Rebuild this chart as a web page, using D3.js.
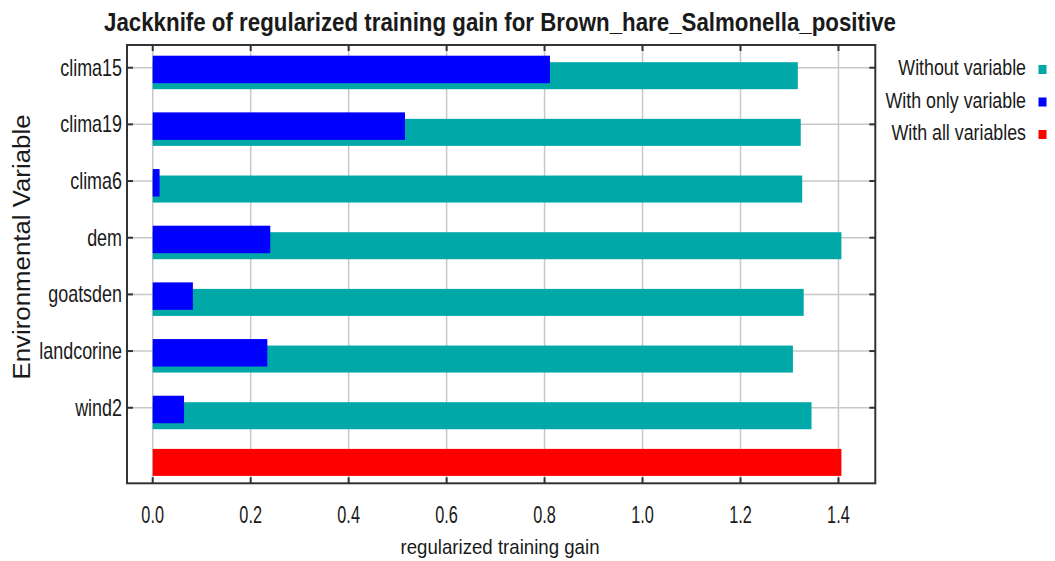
<!DOCTYPE html>
<html>
<head>
<meta charset="utf-8">
<script src="https://cdn.jsdelivr.net/npm/d3@7"></script>
<style>
  body { margin: 0; background: #fff; }
  text { font-family: "Liberation Sans", Arial, sans-serif; fill: #1a1a1a; }
</style>
</head>
<body>
<div id="chart"></div>
<script>
// data
const variables = ['clima15', 'clima19', 'clima6', 'dem', 'goatsden', 'landcorine', 'wind2'];
const withoutVariable = [1.317, 1.323, 1.326, 1.406, 1.329, 1.307, 1.345];
const withOnlyVariable = [0.811, 0.515, 0.014, 0.240, 0.082, 0.234, 0.064];
const withAllVariables = 1.406;
const xTicks = [0.0, 0.2, 0.4, 0.6, 0.8, 1.0, 1.2, 1.4];
const legendLabels = ['Without variable', 'With only variable', 'With all variables'];

const teal = '#00a8a8', blue = '#0000ff', red = '#ff0000';
const legendColors = [teal, blue, red];

const width = 1055, height = 561;
const box = { left: 127, right: 875.3, top: 45, bottom: 483.3 };

const svg = d3.select('#chart').append('svg')
  .attr('width', width)
  .attr('height', height);

const x = d3.scaleLinear()
  .domain([-0.0525, 1.4752])
  .range([box.left, box.right]);

// one row per variable plus the "all variables" row at the bottom
const rows = variables.concat(['__all']);
const y = d3.scalePoint()
  .domain(rows)
  .range([67.7, 464.4]);

// the reference font is narrow: texts are squeezed horizontally with scale()

// grid lines
svg.append('g').selectAll('line')
  .data(xTicks)
  .enter().append('line')
    .attr('x1', d => x(d)).attr('x2', d => x(d))
    .attr('y1', box.top).attr('y2', box.bottom)
    .attr('stroke', '#c8c8c8')
    .attr('stroke-width', 1.5);

svg.append('g').selectAll('line')
  .data(variables)
  .enter().append('line')
    .attr('x1', box.left).attr('x2', box.right)
    .attr('y1', d => y(d)).attr('y2', d => y(d))
    .attr('stroke', '#c8c8c8')
    .attr('stroke-width', 1.5);

// bars: without variable (teal) under with only variable (blue)
const barG = svg.append('g');
barG.selectAll('.without')
  .data(variables)
  .enter().append('rect')
    .attr('class', 'without')
    .attr('x', x(0))
    .attr('y', d => y(d) - 5.5)
    .attr('width', (d, i) => x(withoutVariable[i]) - x(0))
    .attr('height', 27)
    .attr('fill', teal);

barG.selectAll('.withonly')
  .data(variables)
  .enter().append('rect')
    .attr('class', 'withonly')
    .attr('x', x(0))
    .attr('y', d => y(d) - 12)
    .attr('width', (d, i) => x(withOnlyVariable[i]) - x(0))
    .attr('height', 27.5)
    .attr('fill', blue);

barG.append('rect')
  .attr('x', x(0))
  .attr('y', y('__all') - 15.5)
  .attr('width', x(withAllVariables) - x(0))
  .attr('height', 27)
  .attr('fill', red);

// plot frame
svg.append('rect')
  .attr('x', box.left).attr('y', box.top)
  .attr('width', box.right - box.left)
  .attr('height', box.bottom - box.top)
  .attr('fill', 'none')
  .attr('stroke', '#333')
  .attr('stroke-width', 2);

// inward ticks on all four sides
const tickLen = 6;
const tickG = svg.append('g').attr('stroke', '#333').attr('stroke-width', 2);
xTicks.forEach(d => {
  tickG.append('line').attr('x1', x(d)).attr('x2', x(d)).attr('y1', box.bottom).attr('y2', box.bottom - tickLen);
  tickG.append('line').attr('x1', x(d)).attr('x2', x(d)).attr('y1', box.top).attr('y2', box.top + tickLen);
});
variables.forEach(d => {
  tickG.append('line').attr('x1', box.left).attr('x2', box.left + tickLen).attr('y1', y(d)).attr('y2', y(d));
  tickG.append('line').attr('x1', box.right).attr('x2', box.right - tickLen).attr('y1', y(d)).attr('y2', y(d));
});

// x tick labels
svg.append('g').selectAll('text')
  .data(xTicks)
  .enter().append('text')
    .attr('transform', d => `translate(${x(d)},523) scale(0.68,1)`)
    .attr('text-anchor', 'middle')
    .attr('font-size', 24)
    .text(d => d3.format('.1f')(d));

// y tick labels
svg.append('g').selectAll('text')
  .data(variables)
  .enter().append('text')
    .attr('transform', d => `translate(122,${y(d)}) scale(0.78,1)`)
    .attr('dy', '0.35em')
    .attr('text-anchor', 'end')
    .attr('font-size', 23)
    .text(d => d);

// title
svg.append('text')
  .attr('x', 500)
  .attr('y', 31)
  .attr('text-anchor', 'middle')
  .attr('font-size', 26)
  .attr('font-weight', 'bold')
  .attr('textLength', 792)
  .attr('lengthAdjust', 'spacingAndGlyphs')
  .text('Jackknife of regularized training gain for Brown_hare_Salmonella_positive');

// axis titles
svg.append('text')
  .attr('x', 500)
  .attr('y', 554)
  .attr('text-anchor', 'middle')
  .attr('font-size', 21)
  .attr('textLength', 199)
  .attr('lengthAdjust', 'spacingAndGlyphs')
  .text('regularized training gain');

svg.append('text')
  .attr('transform', 'translate(30,247) rotate(-90)')
  .attr('text-anchor', 'middle')
  .attr('font-size', 23)
  .attr('textLength', 265)
  .attr('lengthAdjust', 'spacingAndGlyphs')
  .text('Environmental Variable');

// legend
const legend = svg.append('g').selectAll('g')
  .data(legendLabels)
  .enter().append('g')
    .attr('transform', (d, i) => `translate(0,${75 + i * 32.5})`);

legend.append('text')
  .attr('transform', 'translate(1026,0) scale(0.81,1)')
  .attr('text-anchor', 'end')
  .attr('font-size', 22)
  .text(d => d);

legend.append('rect')
  .attr('x', 1038.5)
  .attr('y', -10)
  .attr('width', 8)
  .attr('height', 9)
  .attr('fill', (d, i) => legendColors[i]);
</script>
</body>
</html>
